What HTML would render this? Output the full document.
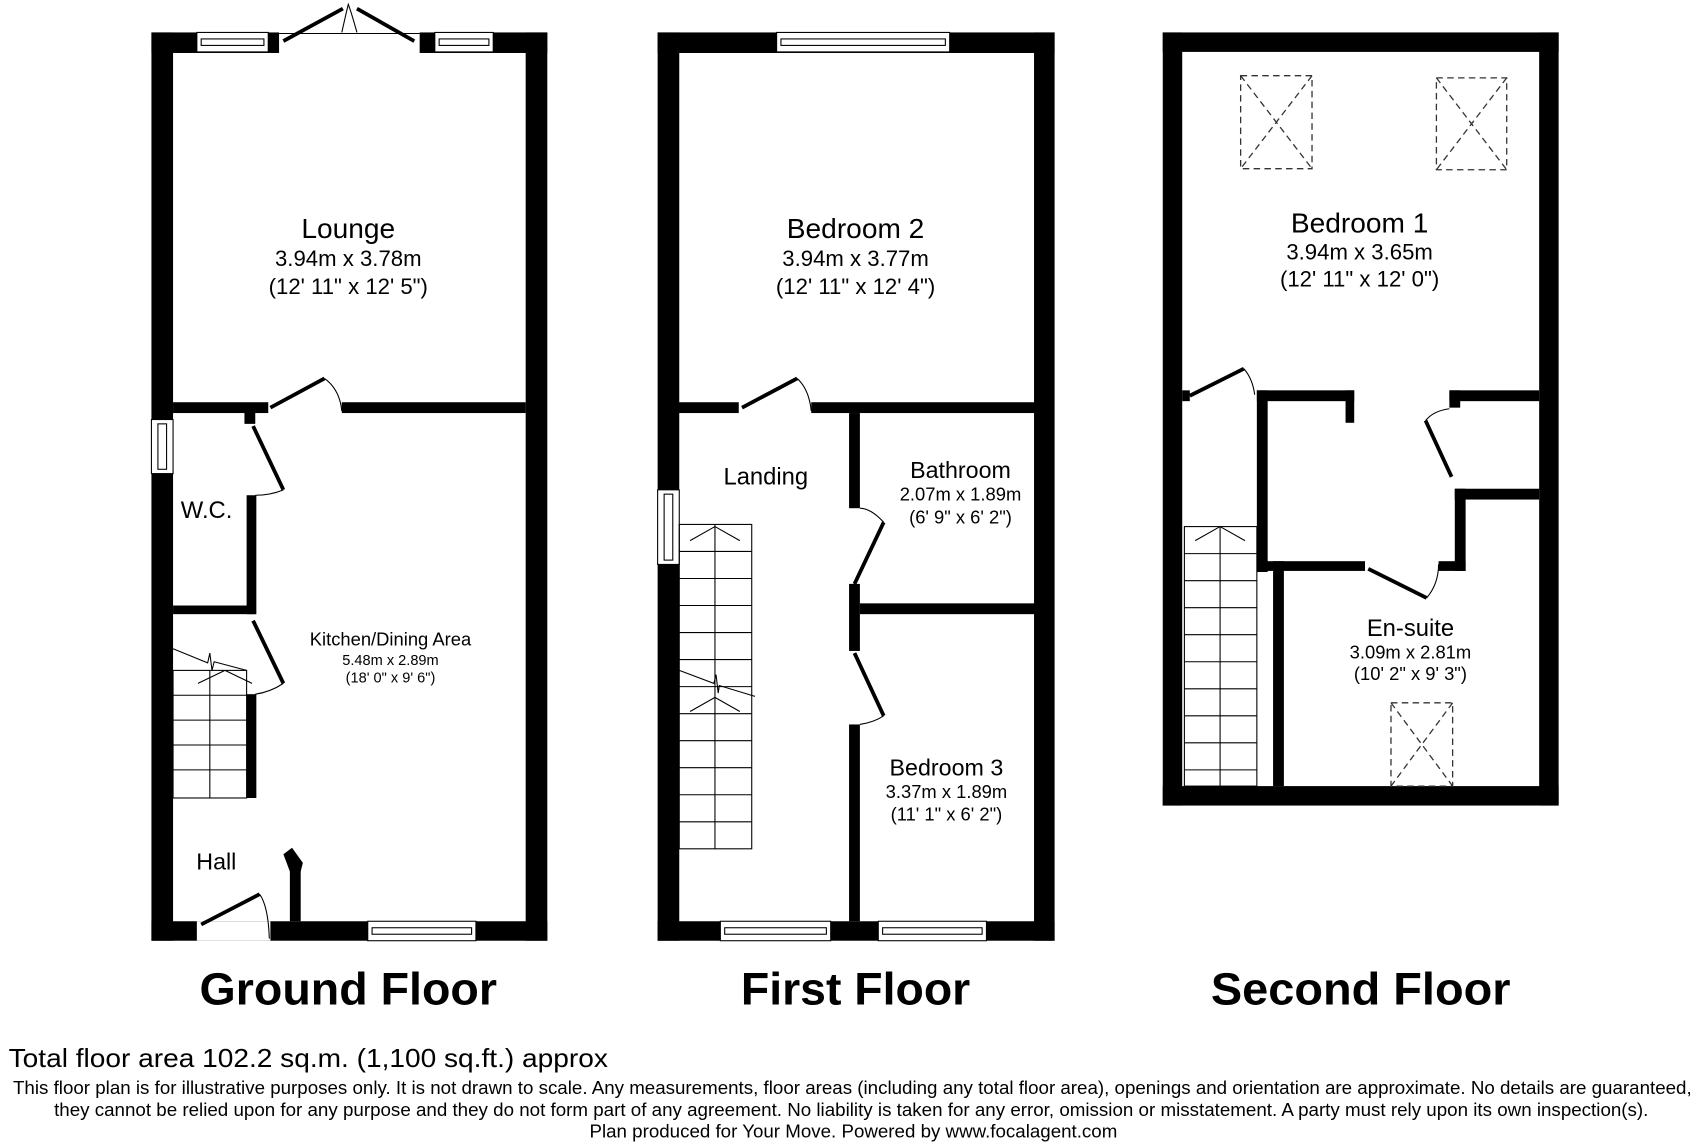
<!DOCTYPE html>
<html><head><meta charset="utf-8"><style>html,body{margin:0;padding:0;background:#fff}svg{display:block}</style></head>
<body>
<svg width="1696" height="1144" viewBox="0 0 1568 1058" preserveAspectRatio="none" xmlns="http://www.w3.org/2000/svg" font-family="Liberation Sans, sans-serif">
<rect width="1568" height="1058" fill="#fff"/>
<g fill="#000">
<rect x="140" y="30" width="20" height="840"/>
<rect x="486" y="30" width="20" height="840"/>
<rect x="140" y="30" width="118" height="19"/>
<rect x="388" y="30" width="118" height="19"/>
<rect x="140" y="852" width="366" height="18"/>
<rect x="160" y="372" width="88" height="10"/>
<rect x="316" y="372" width="170" height="10"/>
<rect x="226" y="380" width="10" height="12"/>
<rect x="228" y="458" width="9" height="110"/>
<rect x="160" y="560" width="76" height="8"/>
<rect x="228" y="642" width="9" height="96"/>
<rect x="268" y="798" width="10" height="54"/>
<polygon points="262,790 270,784 280,798 278,806 268,806"/>
<rect x="608" y="30" width="20" height="840"/>
<rect x="956" y="30" width="19" height="840"/>
<rect x="608" y="30" width="367" height="19"/>
<rect x="608" y="852" width="367" height="18"/>
<rect x="626" y="372" width="57" height="10"/>
<rect x="750" y="372" width="207" height="10"/>
<rect x="785" y="382" width="10" height="88"/>
<rect x="785" y="540" width="10" height="62"/>
<rect x="795" y="558" width="162" height="10"/>
<rect x="785" y="670" width="10" height="182"/>
<rect x="1075" y="30" width="366" height="18"/>
<rect x="1075" y="30" width="18" height="715"/>
<rect x="1423" y="30" width="18" height="715"/>
<rect x="1075" y="727" width="366" height="18"/>
<rect x="1093" y="361" width="7" height="10"/>
<rect x="1162" y="361" width="10" height="168"/>
<rect x="1162" y="361" width="90" height="10"/>
<rect x="1244" y="361" width="8" height="30"/>
<rect x="1177" y="519" width="10" height="208"/>
<rect x="1162" y="519" width="100" height="9"/>
<rect x="1330" y="519" width="25" height="9"/>
<rect x="1345" y="452" width="10" height="76"/>
<rect x="1345" y="452" width="78" height="10"/>
<rect x="1340" y="361" width="83" height="10"/>
<rect x="1340" y="361" width="10" height="16"/>
</g>
<g fill="#fff" stroke="#000" stroke-width="1">
<rect x="182" y="30" width="66" height="18"/><rect x="186" y="36" width="58" height="6"/>
<rect x="402" y="30" width="54" height="18"/><rect x="406" y="36" width="46" height="6"/>
<rect x="340" y="852" width="100" height="18"/><rect x="344" y="858" width="92" height="6"/>
<rect x="140" y="388" width="20" height="50"/><rect x="146" y="392" width="8" height="42"/>
<rect x="718" y="30" width="160" height="18"/><rect x="722" y="36" width="152" height="6"/>
<rect x="608" y="453" width="20" height="69"/><rect x="614" y="457" width="8" height="61"/>
<rect x="666" y="852" width="102" height="18"/><rect x="670" y="858" width="94" height="6"/>
<rect x="812" y="852" width="100" height="18"/><rect x="816" y="858" width="92" height="6"/>
<rect x="182" y="852" width="68" height="18" stroke="none"/>
</g>
<line x1="258" y1="31" x2="388" y2="31" stroke="#000" stroke-width="1"/>
<g stroke="#000" stroke-width="3.5" fill="none">
<line x1="262" y1="38" x2="317" y2="8"/><line x1="383" y1="38" x2="330" y2="8"/>
<line x1="250" y1="377" x2="300" y2="350"/>
<line x1="234" y1="394" x2="262" y2="453"/>
<line x1="234" y1="574" x2="262" y2="632"/>
<line x1="186" y1="855" x2="240" y2="827"/>
<line x1="686" y1="377" x2="737" y2="350"/>
<line x1="790" y1="540" x2="817" y2="483"/>
<line x1="790" y1="604" x2="817" y2="662"/>
<line x1="1100" y1="366" x2="1150" y2="341"/>
<line x1="1265" y1="526" x2="1319" y2="553"/>
<line x1="1342" y1="441" x2="1318" y2="389"/>
</g>
<g stroke="#000" stroke-width="1" fill="none">
<path d="M300 350 Q314 360 316 380"/>
<path d="M262 453 Q250 458 236 458"/>
<path d="M262 632 Q250 640 236 642"/>
<path d="M240 827 Q248 838 249 868"/>
<path d="M737 350 Q748 360 750 380"/>
<path d="M817 483 Q805 470 795 470"/>
<path d="M817 662 Q808 668 795 670"/>
<path d="M1150 341 Q1158 350 1160 365"/>
<path d="M1319 553 Q1330 540 1330 522"/>
<path d="M1318 389 Q1325 380 1340 378"/>
<path d="M316 30 Q320 12 322 4 Q325 12 330 30"/>
</g>
<g stroke="#000" stroke-width="1" fill="none">
<rect x="160" y="620" width="68" height="118"/>
<line x1="160" y1="643" x2="228" y2="643"/><line x1="160" y1="666" x2="228" y2="666"/><line x1="160" y1="689" x2="228" y2="689"/><line x1="160" y1="712" x2="228" y2="712"/>
<line x1="194" y1="620" x2="194" y2="738"/>
<path d="M160 600 L192 613 L194 604 L196 620 L198 612 L228 620"/>
<line x1="183" y1="632" x2="208" y2="620"/><line x1="208" y1="620" x2="233" y2="632"/>
<rect x="628" y="485" width="67" height="300"/>
<line x1="661" y1="485" x2="661" y2="785"/>
<line x1="628" y1="510" x2="695" y2="510"/><line x1="628" y1="535" x2="695" y2="535"/><line x1="628" y1="560" x2="695" y2="560"/><line x1="628" y1="585" x2="695" y2="585"/><line x1="628" y1="610" x2="695" y2="610"/><line x1="628" y1="635" x2="695" y2="635"/><line x1="628" y1="660" x2="695" y2="660"/><line x1="628" y1="685" x2="695" y2="685"/><line x1="628" y1="710" x2="695" y2="710"/><line x1="628" y1="735" x2="695" y2="735"/><line x1="628" y1="760" x2="695" y2="760"/>
<path d="M638 500 L661 487 L684 500"/>
<path d="M638 658 L661 645 L684 658"/>
<path d="M628 620 L660 632 L662 624 L664 641 L665 634 L698 644"/>
<rect x="1095" y="487" width="67" height="240"/>
<line x1="1128" y1="487" x2="1128" y2="727"/>
<line x1="1095" y1="512" x2="1162" y2="512"/><line x1="1095" y1="537" x2="1162" y2="537"/><line x1="1095" y1="562" x2="1162" y2="562"/><line x1="1095" y1="587" x2="1162" y2="587"/><line x1="1095" y1="612" x2="1162" y2="612"/><line x1="1095" y1="637" x2="1162" y2="637"/><line x1="1095" y1="662" x2="1162" y2="662"/><line x1="1095" y1="687" x2="1162" y2="687"/><line x1="1095" y1="712" x2="1162" y2="712"/>
<path d="M1105 500 L1128 487 L1151 500"/>
</g>
<g stroke="#333" stroke-width="1.2" fill="none" stroke-dasharray="6,4">
<rect x="1147" y="70" width="66" height="86"/><line x1="1147" y1="70" x2="1213" y2="156"/><line x1="1213" y1="70" x2="1147" y2="156"/>
<rect x="1328" y="72" width="65" height="85"/><line x1="1328" y1="72" x2="1393" y2="157"/><line x1="1393" y1="72" x2="1328" y2="157"/>
<rect x="1286" y="650" width="57" height="77"/><line x1="1286" y1="650" x2="1343" y2="727"/><line x1="1343" y1="650" x2="1286" y2="727"/>
</g>
<g fill="#000" text-anchor="middle">
<text x="322" y="220" font-size="26">Lounge</text>
<text x="322" y="246" font-size="20.5">3.94m x 3.78m</text>
<text x="322" y="272" font-size="20.5">(12' 11" x 12' 5")</text>
<text x="191" y="479" font-size="22">W.C.</text>
<text x="361" y="597" font-size="17">Kitchen/Dining Area</text>
<text x="361" y="615" font-size="13.5">5.48m x 2.89m</text>
<text x="361" y="631" font-size="13.5">(18' 0" x 9' 6")</text>
<text x="200" y="804" font-size="21.5">Hall</text>
<text x="791" y="220" font-size="26">Bedroom 2</text>
<text x="791" y="246" font-size="20.5">3.94m x 3.77m</text>
<text x="791" y="272" font-size="20.5">(12' 11" x 12' 4")</text>
<text x="708" y="448" font-size="22">Landing</text>
<text x="888" y="442" font-size="21.5">Bathroom</text>
<text x="888" y="463" font-size="17">2.07m x 1.89m</text>
<text x="888" y="484" font-size="17">(6' 9" x 6' 2")</text>
<text x="875" y="717" font-size="21.5">Bedroom 3</text>
<text x="875" y="738" font-size="17">3.37m x 1.89m</text>
<text x="875" y="759" font-size="17">(11' 1" x 6' 2")</text>
<text x="1257" y="215" font-size="26">Bedroom 1</text>
<text x="1257" y="240" font-size="20.5">3.94m x 3.65m</text>
<text x="1257" y="265" font-size="20.5">(12' 11" x 12' 0")</text>
<text x="1304" y="588" font-size="22">En-suite</text>
<text x="1304" y="609" font-size="17">3.09m x 2.81m</text>
<text x="1304" y="629" font-size="17">(10' 2" x 9' 3")</text>
<text x="322" y="929" font-size="42" font-weight="bold" textLength="275" lengthAdjust="spacingAndGlyphs">Ground Floor</text>
<text x="791" y="929" font-size="42" font-weight="bold" textLength="212" lengthAdjust="spacingAndGlyphs">First Floor</text>
<text x="1258" y="929" font-size="42" font-weight="bold" textLength="277" lengthAdjust="spacingAndGlyphs">Second Floor</text>
</g>
<g fill="#000">
<text x="8" y="987" font-size="24" textLength="554" lengthAdjust="spacingAndGlyphs">Total floor area 102.2 sq.m. (1,100 sq.ft.) approx</text>
<text x="12" y="1012" font-size="17" textLength="1552" lengthAdjust="spacingAndGlyphs">This floor plan is for illustrative purposes only. It is not drawn to scale. Any measurements, floor areas (including any total floor area), openings and orientation are approximate. No details are guaranteed,</text>
<text x="50" y="1032" font-size="17" textLength="1474" lengthAdjust="spacingAndGlyphs">they cannot be relied upon for any purpose and they do not form part of any agreement. No liability is taken for any error, omission or misstatement. A party must rely upon its own inspection(s).</text>
<text x="545" y="1052" font-size="17" textLength="488" lengthAdjust="spacingAndGlyphs">Plan produced for Your Move. Powered by www.focalagent.com</text>
</g>
</svg>
</body></html>
